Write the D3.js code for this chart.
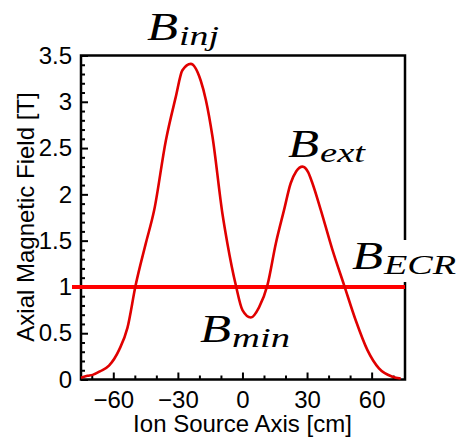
<!DOCTYPE html>
<html>
<head>
<meta charset="utf-8">
<script src="https://cdn.jsdelivr.net/npm/d3@7"></script>
<style>
  html, body { margin: 0; padding: 0; background: #fff; }
  svg { display: block; }
</style>
</head>
<body>
<svg id="chart" width="460" height="438"></svg>
<script>
// ---- data ----
const positions = [-75, -72, -69.6, -66, -62, -57.3, -53.4, -49.6, -44.9, -41, -35.6, -31, -27.9, -24, -19.4, -17, -13.9, -9.3, -7, -3.1, 0, 3.9, 7.7, 11.6, 15.5, 19.3, 22.4, 25, 27.9, 30.5, 32.5, 36.4, 41.8, 47.2, 52.6, 58, 63.4, 69.7, 73.5];
const fieldValues = [0.02, 0.04, 0.05, 0.09, 0.15, 0.32, 0.56, 1.02, 1.47, 1.83, 2.58, 3.05, 3.34, 3.41, 3.23, 3.02, 2.62, 1.79, 1.47, 1.02, 0.75, 0.67, 0.78, 1.02, 1.47, 1.83, 2.12, 2.25, 2.30, 2.24, 2.12, 1.83, 1.40, 1.02, 0.64, 0.32, 0.12, 0.03, 0.01];
const ecrField = 1;
const xMajorTicks = [-60, -30, 0, 30, 60];
const xMinorTicks = [-70, -50, -40, -20, -10, 10, 20, 40, 50, 70];
const yMajorTicks = [0, 0.5, 1, 1.5, 2, 2.5, 3, 3.5];
const yMinorTicks = d3.range(0, 35).map(i => i / 10).filter(v => Math.round(v * 10) % 5 !== 0);
const xTitle = "Ion Source Axis [cm]";
const yTitle = "Axial Magnetic Field [T]";
const labels = [
  { base: "B", sub: "inj", x: -44.3, y: 3.667, subWidth: 40 },
  { base: "B", sub: "ext", x: 21.2, y: 2.404, subWidth: 45 },
  { base: "B", sub: "ECR", x: 50.9, y: 1.194, subWidth: 72 },
  { base: "B", sub: "min", x: -19.7, y: 0.405, subWidth: 58 }
];

// ---- layout ----
const svg = d3.select("#chart");
const L = 81, R = 405, T = 55.5, B = 379.5;
const x = d3.scaleLinear().domain([-75, 75.5]).range([L, R]);
const y = d3.scaleLinear().domain([0, 3.5]).range([B, T]);
const font = "'Liberation Sans', Arial, sans-serif";
const serif = "'Liberation Serif', 'Times New Roman', serif";

// frame
svg.append("rect").attr("x", L).attr("y", T).attr("width", R - L).attr("height", B - T)
  .attr("fill", "none").attr("stroke", "#000").attr("stroke-width", 2.5);

// axes
function styleAxis(g) {
  g.select(".domain").remove();
  g.selectAll(".tick line").attr("stroke", "#000").attr("stroke-width", 2);
  g.selectAll(".tick text").attr("fill", "#000").style("font-family", font).style("font-size", "24px");
}
svg.append("g").attr("transform", `translate(0,${B})`)
  .call(d3.axisBottom(x).tickValues(xMajorTicks).tickSizeInner(-7).tickSizeOuter(0).tickPadding(11).tickFormat(d3.format("d")))
  .call(styleAxis);
svg.append("g").attr("transform", `translate(0,${B})`)
  .call(d3.axisBottom(x).tickValues(xMinorTicks).tickSizeInner(-4).tickSizeOuter(0).tickFormat(""))
  .call(styleAxis);
svg.append("g").attr("transform", `translate(${L},0)`)
  .call(d3.axisLeft(y).tickValues(yMajorTicks).tickSizeInner(-7).tickSizeOuter(0).tickPadding(9).tickFormat(d => d3.format("")(d)))
  .call(styleAxis);
svg.append("g").attr("transform", `translate(${L},0)`)
  .call(d3.axisLeft(y).tickValues(yMinorTicks).tickSizeInner(-4).tickSizeOuter(0).tickFormat(""))
  .call(styleAxis);

// axis titles
svg.append("text").attr("x", 242.5).attr("y", 432).attr("text-anchor", "middle")
  .style("font-family", font).style("font-size", "24px").text(xTitle);
svg.append("text").attr("transform", `translate(34,${(89 + 345) / 2}) rotate(-90)`).attr("text-anchor", "middle")
  .style("font-family", font).style("font-size", "24px").text(yTitle);

// white box behind B_ECR label (covers frame)
svg.append("rect").attr("x", 350).attr("y", 240).attr("width", 110).attr("height", 42).attr("fill", "#fff");

// ECR line
svg.append("line").attr("x1", 72).attr("x2", R).attr("y1", y(ecrField)).attr("y2", y(ecrField))
  .attr("stroke", "#ff0000").attr("stroke-width", 4);

// field curve
const pts = positions.map((p, i) => [p, fieldValues[i]]);
svg.append("path").datum(pts)
  .attr("d", d3.line().x(d => x(d[0])).y(d => y(d[1])).curve(d3.curveMonotoneX))
  .attr("fill", "none").attr("stroke", "#e00000").attr("stroke-width", 2.6).attr("stroke-linejoin", "round");

// math labels
labels.forEach(l => {
  const g = svg.append("g");
  const bx = x(l.x), by = y(l.y);
  g.append("text").attr("x", bx).attr("y", by)
    .attr("textLength", 31).attr("lengthAdjust", "spacingAndGlyphs")
    .style("font-family", serif).style("font-style", "italic").style("font-size", "40px").text(l.base);
  g.append("text").attr("x", bx + 32).attr("y", by + 5)
    .attr("textLength", l.subWidth).attr("lengthAdjust", "spacingAndGlyphs")
    .style("font-family", serif).style("font-style", "italic").style("font-size", "27px").text(l.sub);
});
</script>
</body>
</html>
